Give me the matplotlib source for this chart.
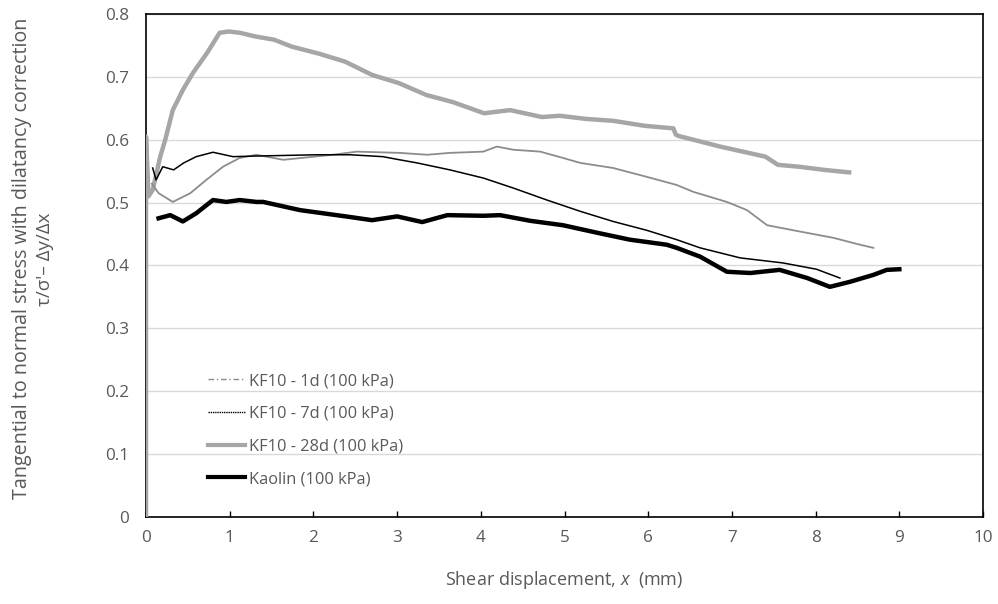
import matplotlib
matplotlib.use("Agg")
import matplotlib.pyplot as plt
from matplotlib.lines import Line2D

plt.rcParams['font.family'] = ['Open Sans', 'DejaVu Sans']
plt.rcParams['mathtext.fontset'] = 'custom'
plt.rcParams['mathtext.it'] = 'Open Sans:italic'
plt.rcParams['mathtext.rm'] = 'Open Sans'

# ---- data ----
x_28d = [0, 0, 0.03, 0.08, 0.17, 0.23, 0.32, 0.44, 0.56, 0.73, 0.88, 0.99, 1.12, 1.31,
         1.53, 1.74, 2.06, 2.38, 2.70, 3.02, 3.35, 3.66, 4.04, 4.35, 4.73, 4.94, 5.26,
         5.58, 5.96, 6.30, 6.33, 6.36, 6.86, 7.40, 7.55, 7.8, 8.1, 8.4]
y_28d = [0, 0.605, 0.51, 0.52, 0.573, 0.60, 0.647, 0.679, 0.706, 0.738, 0.770, 0.772,
         0.770, 0.764, 0.759, 0.748, 0.737, 0.724, 0.703, 0.690, 0.671, 0.660, 0.642,
         0.647, 0.636, 0.638, 0.633, 0.630, 0.622, 0.618, 0.608, 0.606, 0.589, 0.573,
         0.560, 0.557, 0.552, 0.548]

x_1d = [0.07, 0.15, 0.32, 0.53, 0.72, 0.92, 1.12, 1.32, 1.64, 2.23, 2.52, 3.03, 3.36,
        3.63, 4.03, 4.19, 4.39, 4.71, 4.98, 5.19, 5.58, 5.98, 6.34, 6.54, 6.94, 7.18,
        7.42, 7.81, 8.21, 8.53, 8.69]
y_1d = [0.53, 0.515, 0.501, 0.515, 0.536, 0.557, 0.571, 0.576, 0.568, 0.576, 0.581,
        0.579, 0.576, 0.579, 0.581, 0.589, 0.584, 0.581, 0.571, 0.563, 0.555, 0.541,
        0.528, 0.517, 0.501, 0.488, 0.464, 0.454, 0.444, 0.433, 0.428]

x_7d = [0.08, 0.12, 0.2, 0.33, 0.45, 0.6, 0.8, 1.04, 1.32, 2.04, 2.44, 2.83, 3.03,
        3.24, 3.63, 4.03, 4.39, 4.79, 5.19, 5.58, 5.98, 6.34, 6.62, 7.10, 7.61, 8.01, 8.29]
y_7d = [0.555, 0.536, 0.557, 0.552, 0.563, 0.573, 0.580, 0.573, 0.574, 0.576, 0.576,
        0.573, 0.568, 0.563, 0.552, 0.539, 0.523, 0.504, 0.486, 0.470, 0.456, 0.441,
        0.428, 0.412, 0.404, 0.394, 0.380]

x_kao = [0.15, 0.29, 0.44, 0.6, 0.8, 0.96, 1.12, 1.32, 1.40, 1.84, 2.44, 2.7, 3.0, 3.3,
         3.6, 4.03, 4.23, 4.59, 4.98, 5.39, 5.78, 6.22, 6.34, 6.62, 6.94, 7.22, 7.57,
         7.90, 8.17, 8.41, 8.69, 8.85, 9.0]
y_kao = [0.475, 0.480, 0.470, 0.483, 0.504, 0.501, 0.504, 0.501, 0.501, 0.488, 0.477,
         0.472, 0.478, 0.469, 0.480, 0.479, 0.480, 0.471, 0.464, 0.452, 0.441, 0.433,
         0.428, 0.414, 0.390, 0.388, 0.393, 0.380, 0.366, 0.374, 0.385, 0.393, 0.394]

labels = ["KF10 - 1d (100 kPa)", "KF10 - 7d (100 kPa)", "KF10 - 28d (100 kPa)", "Kaolin (100 kPa)"]
x_ticks = list(range(0, 11))
y_ticks = [0, 0.1, 0.2, 0.3, 0.4, 0.5, 0.6, 0.7, 0.8]
y_ticklabels = ["0", "0.1", "0.2", "0.3", "0.4", "0.5", "0.6", "0.7", "0.8"]

txt = '#595959'
fig = plt.figure(figsize=(9.98, 6.04), dpi=100)
ax = fig.add_axes([0.1463, 0.144, 0.985 - 0.1463, 0.977 - 0.144])

ax.plot(x_28d, y_28d, color='#A6A6A6', lw=3.2, solid_joinstyle='round', zorder=3)
ax.plot(x_1d, y_1d, color='#8C8C8C', lw=1.3, zorder=4)
ax.plot(x_7d, y_7d, color='black', lw=1.1, zorder=5)
ax.plot(x_kao, y_kao, color='black', lw=3.2, solid_joinstyle='round', zorder=6)

ax.set_xlim(0, 10)
ax.set_ylim(0, 0.8)
ax.set_xticks(x_ticks)
ax.set_yticks(y_ticks)
ax.set_yticklabels(y_ticklabels)
ax.grid(axis='y', color='#D9D9D9', lw=1)
ax.set_axisbelow(True)
ax.tick_params(axis='x', direction='in', length=4, width=1, color='black',
               labelsize=12.3, labelcolor=txt, pad=9)
ax.tick_params(axis='y', length=0, labelsize=12.3, labelcolor=txt, pad=12)
for s in ax.spines.values():
    s.set_color('black')
    s.set_linewidth(1.2)

ax.set_xlabel(r"Shear displacement, $\mathit{x}$  (mm)", fontsize=13, color=txt, labelpad=17)
fig.text(0.022, 0.572, "Tangential to normal stress with dilatancy correction",
         rotation=90, ha='center', va='center', fontsize=14.2, color=txt)
fig.text(0.045, 0.57, "τ/σ'– Δy/Δx", rotation=90, ha='center', va='center',
         fontsize=13.5, color=txt)

handles = [
    Line2D([], [], color='#8C8C8C', lw=1, linestyle=(0, (4, 2, 1, 2))),
    Line2D([], [], color='black', lw=1, linestyle=(0, (1, 0.6))),
    Line2D([], [], color='#A6A6A6', lw=3),
    Line2D([], [], color='black', lw=3),
]
leg = ax.legend(handles, labels, loc='lower left', bbox_to_anchor=(0.057, 0.03),
                frameon=False, fontsize=11.8, labelcolor=txt, handlelength=2.2,
                handletextpad=0.25, labelspacing=1.02)

fig.savefig("out.png", dpi=100)
